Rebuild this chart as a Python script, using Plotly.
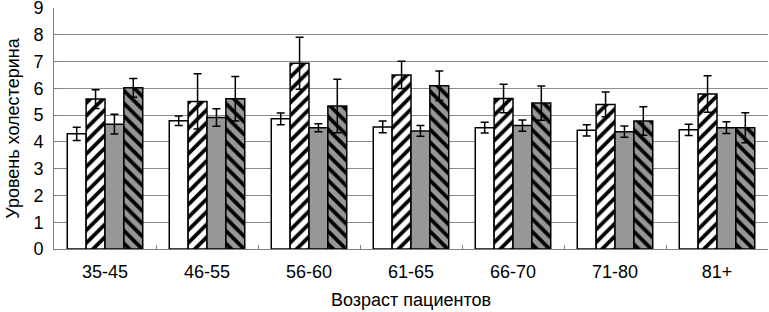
import plotly.graph_objects as go

categories = ["35-45", "46-55", "56-60", "61-65", "66-70", "71-80", "81+"]

s1_vals = [4.30, 4.79, 4.86, 4.56, 4.53, 4.43, 4.45]
s1_err = [0.25, 0.18, 0.22, 0.22, 0.20, 0.21, 0.21]
s2_vals = [5.60, 5.51, 6.94, 6.50, 5.62, 5.40, 5.79]
s2_err = [0.35, 1.03, 0.97, 0.51, 0.53, 0.46, 0.68]
s3_vals = [4.66, 4.91, 4.53, 4.41, 4.61, 4.38, 4.53]
s3_err = [0.37, 0.33, 0.15, 0.20, 0.21, 0.21, 0.22]
s4_vals = [6.02, 5.61, 5.34, 6.10, 5.45, 4.78, 4.53]
s4_err = [0.35, 0.83, 1.00, 0.55, 0.64, 0.53, 0.56]

y_ticks = [0, 1, 2, 3, 4, 5, 6, 7, 8, 9]
grid_vals = [1, 2, 3, 4, 5, 6, 7, 8]

GRAY = "#979797"
FONT = "Liberation Sans, Arial, sans-serif"

series = [
    ("Серия 1", s1_vals, s1_err, "white", ""),
    ("Серия 2", s2_vals, s2_err, "white", "/"),
    ("Серия 3", s3_vals, s3_err, GRAY, ""),
    ("Серия 4", s4_vals, s4_err, GRAY, "\\"),
]

fig = go.Figure()
for name, vals, err, bg, shape in series:
    fig.add_trace(go.Bar(
        name=name,
        x=categories,
        y=vals,
        marker=dict(
            color=bg,
            line=dict(color="black", width=1.5),
            pattern=dict(shape=shape, fgcolor="black", bgcolor=bg,
                         size=9, solidity=0.42, fillmode="replace"),
        ),
        error_y=dict(type="data", array=err, visible=True,
                     color="black", thickness=1.5, width=4),
    ))

fig.update_layout(
    width=769, height=312,
    barmode="group", bargap=0.26, bargroupgap=0,
    showlegend=False,
    plot_bgcolor="white", paper_bgcolor="white",
    margin=dict(l=54, r=1, t=8, b=63),
    font=dict(family=FONT, size=18, color="black"),
    xaxis=dict(
        title=dict(text="Возраст пациентов", standoff=12, font=dict(size=18)),
        automargin=False,
        showline=True, linecolor="#808080", linewidth=1,
        ticks="inside", ticklen=4, tickcolor="#808080",
        tickson="boundaries", showgrid=False,
        tickfont=dict(size=18),
        ticklabelstandoff=6,
    ),
    yaxis=dict(
        title=dict(text="Уровень холестерина", standoff=9, font=dict(size=18)),
        automargin=False,
        range=[0, 9], tickvals=y_ticks,
        showline=True, linecolor="#808080", linewidth=1,
        ticks="inside", ticklen=3, tickcolor="#808080",
        showgrid=False,
        minor=dict(tickvals=grid_vals, showgrid=True, gridcolor="#8c8c8c",
                   gridwidth=1, ticks=""),
        zeroline=False,
        tickfont=dict(size=18),
        ticklabelstandoff=6,
        ticklabeloverflow="allow",
    ),
)

fig.write_html("out.html", config={"displayModeBar": False},
               post_script="document.body.style.margin='0';")
